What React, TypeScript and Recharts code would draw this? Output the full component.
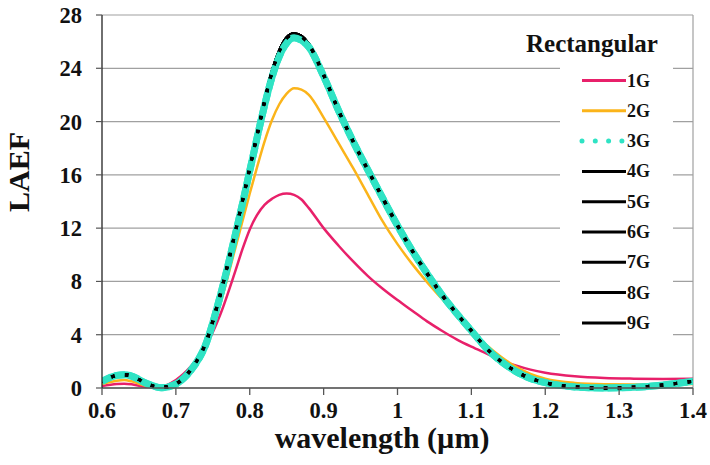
import React from 'react';
import { LineChart, Line, XAxis, YAxis, CartesianGrid, ReferenceLine, Legend } from 'recharts';

const wavelength = [0.60, 0.62, 0.63, 0.64, 0.66, 0.68, 0.70, 0.72, 0.74, 0.76, 0.78, 0.79, 0.80, 0.81, 0.82, 0.83, 0.84, 0.85, 0.86, 0.87, 0.88, 0.90, 0.92, 0.94, 0.96, 0.98, 1.00, 1.02, 1.04, 1.06, 1.08, 1.10, 1.12, 1.14, 1.16, 1.18, 1.20, 1.24, 1.28, 1.32, 1.36, 1.40];

const g1 = [0.15, 0.3, 0.32, 0.28, 0.08, 0.12, 0.6, 1.6, 3.1, 5.5, 8.7, 10.4, 11.9, 13.0, 13.75, 14.2, 14.5, 14.6, 14.5, 14.15, 13.5, 12.0, 10.7, 9.5, 8.4, 7.45, 6.6, 5.8, 5.0, 4.3, 3.65, 3.1, 2.6, 2.1, 1.7, 1.38, 1.15, 0.88, 0.75, 0.7, 0.68, 0.7];
const g2 = [0.3, 0.55, 0.6, 0.5, 0.15, 0.05, 0.35, 1.3, 3.1, 6.3, 10.4, 12.5, 14.6, 16.6, 18.5, 20.1, 21.3, 22.1, 22.5, 22.4, 22.0, 20.3, 18.4, 16.5, 14.5, 12.5, 10.8, 9.3, 7.95, 6.7, 5.5, 4.35, 3.25, 2.35, 1.6, 1.05, 0.7, 0.38, 0.28, 0.26, 0.27, 0.3];
const g3 = [0.5, 0.95, 1.0, 0.9, 0.35, 0.02, 0.3, 1.3, 3.2, 6.9, 11.4, 13.8, 16.3, 18.8, 21.2, 23.3, 24.9, 25.9, 26.3, 26.1, 25.6, 23.4, 20.85, 18.5, 16.35, 14.25, 12.2, 10.3, 8.6, 7.0, 5.6, 4.3, 3.0, 2.0, 1.25, 0.72, 0.4, 0.08, 0.0, 0.05, 0.22, 0.5];
const g4 = [0.5, 0.95, 1.0, 0.9, 0.35, 0.02, 0.3, 1.35, 3.3, 7.0, 11.6, 14.0, 16.5, 19.0, 21.5, 23.7, 25.3, 26.3, 26.6, 26.4, 25.8, 23.5, 20.85, 18.5, 16.35, 14.25, 12.2, 10.3, 8.6, 7.0, 5.6, 4.3, 3.0, 2.0, 1.25, 0.72, 0.4, 0.08, 0.0, 0.05, 0.22, 0.5];
const g5 = [0.5, 0.95, 1.0, 0.9, 0.35, 0.02, 0.3, 1.35, 3.3, 7.0, 11.6, 14.0, 16.5, 19.0, 21.5, 23.7, 25.3, 26.3, 26.6, 26.4, 25.8, 23.5, 20.85, 18.5, 16.35, 14.25, 12.2, 10.3, 8.6, 7.0, 5.6, 4.3, 3.0, 2.0, 1.25, 0.72, 0.4, 0.08, 0.0, 0.05, 0.22, 0.5];
const g6 = [0.5, 0.95, 1.0, 0.9, 0.35, 0.02, 0.3, 1.35, 3.3, 7.0, 11.6, 14.0, 16.5, 19.0, 21.5, 23.7, 25.3, 26.3, 26.6, 26.4, 25.8, 23.5, 20.85, 18.5, 16.35, 14.25, 12.2, 10.3, 8.6, 7.0, 5.6, 4.3, 3.0, 2.0, 1.25, 0.72, 0.4, 0.08, 0.0, 0.05, 0.22, 0.5];
const g7 = [0.5, 0.95, 1.0, 0.9, 0.35, 0.02, 0.3, 1.35, 3.3, 7.0, 11.6, 14.0, 16.5, 19.0, 21.5, 23.7, 25.3, 26.3, 26.6, 26.4, 25.8, 23.5, 20.85, 18.5, 16.35, 14.25, 12.2, 10.3, 8.6, 7.0, 5.6, 4.3, 3.0, 2.0, 1.25, 0.72, 0.4, 0.08, 0.0, 0.05, 0.22, 0.5];
const g8 = [0.5, 0.95, 1.0, 0.9, 0.35, 0.02, 0.3, 1.35, 3.3, 7.0, 11.6, 14.0, 16.5, 19.0, 21.5, 23.7, 25.3, 26.3, 26.6, 26.4, 25.8, 23.5, 20.85, 18.5, 16.35, 14.25, 12.2, 10.3, 8.6, 7.0, 5.6, 4.3, 3.0, 2.0, 1.25, 0.72, 0.4, 0.08, 0.0, 0.05, 0.22, 0.5];
const g9 = [0.5, 0.95, 1.0, 0.9, 0.35, 0.02, 0.3, 1.35, 3.3, 7.0, 11.6, 14.0, 16.5, 19.0, 21.5, 23.7, 25.3, 26.3, 26.6, 26.4, 25.8, 23.5, 20.85, 18.5, 16.35, 14.25, 12.2, 10.3, 8.6, 7.0, 5.6, 4.3, 3.0, 2.0, 1.25, 0.72, 0.4, 0.08, 0.0, 0.05, 0.22, 0.5];

const xTicks = [0.6, 0.7, 0.8, 0.9, 1.0, 1.1, 1.2, 1.3, 1.4];
const yTicks = [0, 4, 8, 12, 16, 20, 24, 28];
const legendTitle = 'Rectangular';
const xTitle = 'wavelength (\u00b5m)';
const yTitle = 'LAEF';

const series = [
  { key: 'g1', name: '1G', values: g1, color: '#E8206A', width: 2.5, dotted: false },
  { key: 'g2', name: '2G', values: g2, color: '#FBB41A', width: 2.5, dotted: false },
  { key: 'g3', name: '3G', values: g3, color: '#2FE3C4', width: 7, dotted: true },
  { key: 'g4', name: '4G', values: g4, color: '#000000', width: 3, dotted: false },
  { key: 'g5', name: '5G', values: g5, color: '#000000', width: 3, dotted: false },
  { key: 'g6', name: '6G', values: g6, color: '#000000', width: 3, dotted: false },
  { key: 'g7', name: '7G', values: g7, color: '#000000', width: 3, dotted: false },
  { key: 'g8', name: '8G', values: g8, color: '#000000', width: 3, dotted: false },
  { key: 'g9', name: '9G', values: g9, color: '#000000', width: 3, dotted: false },
];

const data = wavelength.map((w, i) => {
  const row: any = { w };
  series.forEach((s) => { row[s.key] = s.values[i]; });
  return row;
});

const FONT = "'Liberation Serif', 'Times New Roman', serif";

const XTitle = () => (
  <text x={382} y={448} textAnchor="middle" fontFamily={FONT} fontWeight="bold" fontSize={30} fill="#111">
    {xTitle}
  </text>
);

const YTitle = () => (
  <text x={29} y={172} transform="rotate(-90, 29, 172)" textAnchor="middle" fontFamily={FONT} fontWeight="bold" fontSize={30} fill="#111">
    {yTitle}
  </text>
);

const LegendContent = () => (
  <svg width={160} height={340} style={{ display: 'block' }}>
    <text x={72} y={32} textAnchor="middle" fontFamily={FONT} fontWeight="bold" fontSize={25} fill="#111">{legendTitle}</text>
    <rect x={40} y={40} width={113} height={292} fill="#fff" />
    {series.map((s, i) => {
      const cy = 60.5 + i * 30.3;
      return (
        <g key={s.key}>
          {s.dotted ? (
            <line x1={62} x2={106} y1={cy} y2={cy} stroke={s.color} strokeWidth={5} strokeDasharray="0 13.3" strokeLinecap="round" />
          ) : (
            <line x1={62} x2={106} y1={cy} y2={cy} stroke={s.color} strokeWidth={3} />
          )}
          <text x={107} y={cy + 6} fontFamily={FONT} fontWeight="bold" fontSize={18} fill="#111">{s.name}</text>
        </g>
      );
    })}
  </svg>
);

const lineProps = (s: any) => ({
  dataKey: s.key,
  name: s.name,
  type: 'monotone' as const,
  stroke: s.color,
  dot: false,
  activeDot: false,
  isAnimationActive: false,
});

const byKey = (k: string) => series.find((x) => x.key === k)!;

export default function App() {
  const tickStyle = { fontFamily: FONT, fontWeight: 'bold', fontSize: 22.5, fill: '#111' } as any;
  const cyan = byKey('g3');
  return (
    <div style={{ position: 'absolute', left: 0, top: 0, background: '#fff' }}>
      <LineChart width={710} height={465} data={data} margin={{ top: 15, right: 17, bottom: 47, left: 42 }}>
        <CartesianGrid vertical={false} stroke="#a0a0a0" strokeWidth={1.2} />
        <XAxis
          dataKey="w"
          type="number"
          domain={[0.6, 1.4]}
          ticks={xTicks}
          allowDataOverflow
          height={30}
          tickSize={7}
          tickMargin={7}
          tick={tickStyle}
          axisLine={{ stroke: '#555', strokeWidth: 1.3 }}
          tickLine={{ stroke: '#555', strokeWidth: 1.3 }}
          label={<XTitle />}
        />
        <YAxis
          type="number"
          domain={[0, 28]}
          ticks={yTicks}
          width={60}
          tickSize={6}
          tickMargin={14}
          tick={tickStyle}
          axisLine={{ stroke: '#222', strokeWidth: 1.3 }}
          tickLine={{ stroke: '#555', strokeWidth: 1.2 }}
          label={<YTitle />}
        />
        <ReferenceLine x={1.4} stroke="#a0a0a0" strokeWidth={1.2} />
        <Legend
          layout="horizontal"
          verticalAlign="middle"
          align="center"
          wrapperStyle={{ left: 520, top: 20, width: 160, height: 340 }}
          content={<LegendContent />}
        />
        <Line {...lineProps(byKey('g1'))} strokeWidth={2.5} />
        <Line {...lineProps(byKey('g2'))} strokeWidth={2.5} />
        <Line {...lineProps(cyan)} key="g3base" name="3G base" legendType="none" strokeWidth={cyan.width} />
        {['g4', 'g5', 'g6', 'g7', 'g8', 'g9'].map((k) => (
          <Line key={k} {...lineProps(byKey(k))} strokeWidth={3} />
        ))}
        <Line {...lineProps(cyan)} key="g3" strokeWidth={cyan.width} strokeDasharray="10 4" strokeLinecap="butt" />
      </LineChart>
    </div>
  );
}
